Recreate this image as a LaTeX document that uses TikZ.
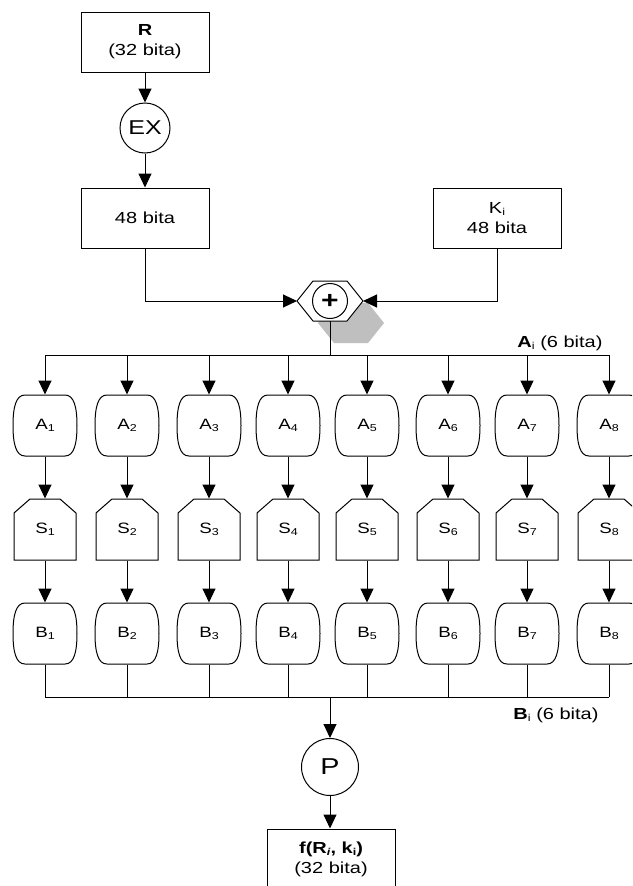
\documentclass[tikz,border=0pt]{standalone}
\usepackage{fontspec}
\setmainfont{Liberation Sans}[FakeStretch=1.25]
\usetikzlibrary{arrows.meta}
\newcommand\lo[1]{\raisebox{-0.25ex}{\fontsize{10}{10}\selectfont #1}}
\begin{document}
\begin{tikzpicture}[x=1pt,y=-1pt,line width=1pt,
  >={Triangle[width=13pt,length=14pt]},
  font=\fontsize{16}{20}\selectfont,
  box/.style={draw, minimum width=128pt, minimum height=60pt, align=center, inner sep=0pt},
  circ/.style={draw, circle, inner sep=0pt},
  lbl/.style={inner sep=0pt},
  shp/.style={minimum width=64pt, minimum height=61pt, inner sep=0pt, font=\fontsize{15}{15}\selectfont},
  shpline/.style={draw, line width=1pt},
  arr/.style={->}]
\clip (0,0) rectangle (632,886);
\fill[white] (0,0) rectangle (632,886);
% top boxes
\node[box] (r) at (145,42) {\textbf{R}\\(32 bita)};
\node[circ, minimum size=50pt, font=\fontsize{20}{20}\selectfont] (ex) at (145,128) {EX};
\node[box] (b48) at (145,218) {48 bita};
\node[box] (ki) at (497,218) {K\lo{i}\\48 bita};
% hexagon xor
\fill[gray!50] (318,323) -- (334,303) -- (368,303) -- (384,323) -- (368,343) -- (334,343) -- cycle;
\filldraw[fill=white] (297,301) -- (313,281) -- (347,281) -- (363,301) -- (347,321) -- (313,321) -- cycle;
\coordinate (hl) at (297,301);
\coordinate (hr) at (363,301);
\coordinate (hb) at (330,321);
\node[circ, minimum size=35pt, font=\fontsize{24}{24}\selectfont\bfseries] (xor) at (330,301) {+};
% buses
\coordinate (abus) at (330,355);
\coordinate (abusL) at (45,355);
\coordinate (abusR) at (609,355);
\coordinate (bbus) at (330,697);
\coordinate (bbusL) at (45,697);
\coordinate (bbusR) at (609,697);
\draw[arr] (r) -- (ex);
\draw[arr] (ex) -- (b48);
\draw[arr] (b48.south) |- (hl);
\draw[arr] (ki.south) |- (hr);
\draw (hb) -- (abus);
\draw (abusL) -- (abusR);
\draw (bbusL) -- (bbusR);
\node[lbl, anchor=base east] (al) at (603,347) {\textbf{A}\lo{i} (6 bita)};
\node[lbl, anchor=base east] (bl) at (599,719) {\textbf{B}\lo{i} (6 bita)};
% columns
\foreach \x [count=\i] in {45,127,209,288,367,448,527,609}{
  % A barrel
  \draw (\x-20,395) -- (\x+20,395) .. controls (\x+29,395) and (\x+32,407) .. (\x+32,425.5)
        .. controls (\x+32,444) and (\x+29,456) .. (\x+20,456) -- (\x-20,456)
        .. controls (\x-29,456) and (\x-32,444) .. (\x-32,425.5)
        .. controls (\x-32,407) and (\x-29,395) .. cycle;
  \node[shp] (a\i) at (\x,425.5) {A\lo{\i}};
  % S box
  \draw (\x-15,499) -- (\x+15,499) -- (\x+31,513) -- (\x+31,560) -- (\x-31,560) -- (\x-31,513) -- cycle;
  \node[shp] (s\i) at (\x,529.5) [minimum height=61pt] {S\lo{\i}};
  % B barrel
  \draw (\x-20,603) -- (\x+20,603) .. controls (\x+29,603) and (\x+32,615) .. (\x+32,633.5)
        .. controls (\x+32,652) and (\x+29,664) .. (\x+20,664) -- (\x-20,664)
        .. controls (\x-29,664) and (\x-32,652) .. (\x-32,633.5)
        .. controls (\x-32,615) and (\x-29,603) .. cycle;
  \node[shp] (b\i) at (\x,633.5) {B\lo{\i}};
  \coordinate (at\i) at (\x,355);
  \coordinate (bt\i) at (\x,697);
  \draw[arr] (at\i) -- (a\i.north);
  \draw[arr] (a\i.south) -- (s\i.north);
  \draw[arr] (s\i.south) -- (b\i.north);
  \draw (b\i.south) -- (bt\i);
}
% P and output
\node[circ, minimum size=57pt, font=\fontsize{23}{23}\selectfont] (p) at (330,767) {P};
\node[box] (f) at (331,859) {\textbf{f(R\lo{\textit{i}}, k\lo{i})}\\(32 bita)};
\draw[arr] (bbus) -- (p);
\draw[arr] (p) -- (p |- f.north);
\end{tikzpicture}
\end{document}
